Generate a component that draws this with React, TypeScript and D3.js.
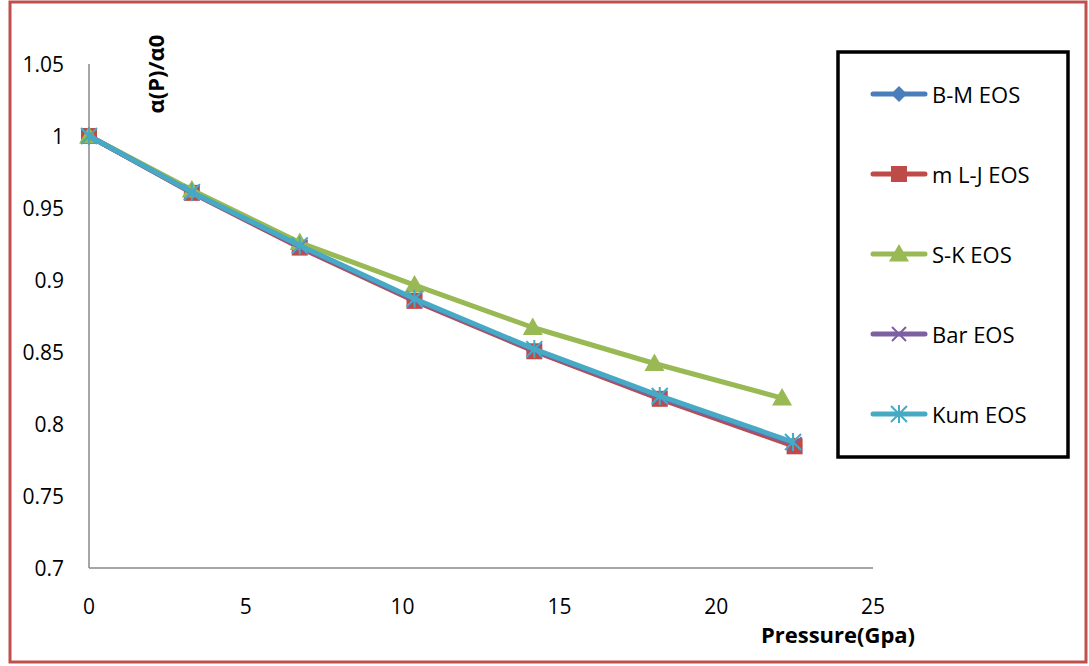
import React from "react";
import * as d3 from "d3";

const pressureBM = [0, 3.28, 6.72, 10.38, 14.2, 18.2, 22.5];
const alphaBM = [1.0, 0.961, 0.923, 0.886, 0.851, 0.818, 0.785];
const pressureLJ = [0, 3.28, 6.72, 10.38, 14.2, 18.2, 22.5];
const alphaLJ = [1.0, 0.9605, 0.9225, 0.8855, 0.8505, 0.8175, 0.7845];
const pressureSK = [0, 3.28, 6.72, 10.38, 14.15, 18.03, 22.1];
const alphaSK = [1.0, 0.9625, 0.926, 0.8965, 0.867, 0.842, 0.818];
const pressureBar = [0, 3.28, 6.72, 10.38, 14.2, 18.2, 22.5];
const alphaBar = [1.0, 0.9608, 0.9232, 0.8862, 0.8512, 0.8185, 0.786];
const pressureKum = [0, 3.28, 6.72, 10.38, 14.2, 18.2, 22.45];
const alphaKum = [1.0, 0.961, 0.924, 0.887, 0.852, 0.8195, 0.7875];

const seriesNames = ["B-M EOS", "m L-J EOS", "S-K EOS", "Bar EOS", "Kum EOS"];
const seriesColors = ["#4a7ebb", "#be4b48", "#98b954", "#7d60a0", "#46aac5"];
const seriesMarkers = ["diamond", "square", "triangle", "x", "star"];
const xTicks = [0, 5, 10, 15, 20, 25];
const yTicks = [0.7, 0.75, 0.8, 0.85, 0.9, 0.95, 1, 1.05];

const seriesX = [pressureBM, pressureLJ, pressureSK, pressureBar, pressureKum];
const seriesY = [alphaBM, alphaLJ, alphaSK, alphaBar, alphaKum];

const FONT = "'Open Sans', 'Noto Sans', sans-serif";

function Marker({ kind, x, y, color }: { kind: string; x: number; y: number; color: string }) {
  if (kind === "diamond") {
    const s = 8;
    return <path d={`M${x},${y - s}L${x + s},${y}L${x},${y + s}L${x - s},${y}Z`} fill={color} />;
  }
  if (kind === "square") {
    const s = 8;
    return <rect x={x - s} y={y - s} width={2 * s} height={2 * s} fill={color} />;
  }
  if (kind === "triangle") {
    const s = 10;
    return <path d={`M${x},${y - s}L${x + s},${y + s * 0.75}L${x - s},${y + s * 0.75}Z`} fill={color} />;
  }
  if (kind === "x") {
    const s = 7;
    return (
      <path d={`M${x - s},${y - s}L${x + s},${y + s}M${x + s},${y - s}L${x - s},${y + s}`} stroke={color} strokeWidth={2} />
    );
  }
  const s = 8;
  return (
    <path
      d={`M${x - s},${y - s}L${x + s},${y + s}M${x + s},${y - s}L${x - s},${y + s}M${x},${y - s - 1}L${x},${y + s + 1}`}
      stroke={color}
      strokeWidth={2}
    />
  );
}

export default function App() {
  const W = 1089;
  const H = 666;
  const x = d3.scaleLinear().domain([0, 25]).range([89, 873]);
  const y = d3.scaleLinear().domain([0.7, 1.05]).range([568, 64]);
  const line = d3
    .line<[number, number]>()
    .x((d) => x(d[0]))
    .y((d) => y(d[1]));

  const legendRows = [94, 174, 254, 334, 414];

  return (
    <svg
      width={W}
      height={H}
      style={{ position: "absolute", left: 0, top: 0, background: "#fff" }}
      fontFamily={FONT}
    >
      <rect x={10} y={2} width={1076} height={660} fill="#fff" stroke="#c0504d" strokeWidth={3} />
      {/* axes */}
      <line x1={x(0)} x2={x(0)} y1={y(1.05)} y2={y(0.7)} stroke="#898989" strokeWidth={1.5} />
      <line x1={x(0)} x2={x(25)} y1={y(0.7)} y2={y(0.7)} stroke="#898989" strokeWidth={1.5} />
      {yTicks.map((t) => (
        <text key={t} x={64} y={y(t)} textAnchor="end" dominantBaseline="central" fontSize={21} fill="#000">
          {String(t)}
        </text>
      ))}
      {xTicks.map((t) => (
        <text key={t} x={x(t)} y={606} textAnchor="middle" dominantBaseline="central" fontSize={21} fill="#000">
          {String(t)}
        </text>
      ))}
      <text
        transform={`translate(155,74) rotate(-90)`}
        textAnchor="middle"
        dominantBaseline="central"
        fontSize={22}
        fontWeight="bold"
        fill="#000"
      >
        α(P)/α0
      </text>
      <text x={838} y={634} textAnchor="middle" dominantBaseline="central" fontSize={22} fontWeight="bold" fill="#000">
        Pressure(Gpa)
      </text>
      {/* series */}
      {seriesNames.map((name, i) => {
        const pts: [number, number][] = seriesX[i].map((px, j) => [px, seriesY[i][j]]);
        return (
          <g key={name}>
            <path d={line(pts) || ""} fill="none" stroke={seriesColors[i]} strokeWidth={5} strokeLinejoin="round" />
            {pts.map((p, j) => (
              <Marker key={j} kind={seriesMarkers[i]} x={x(p[0])} y={y(p[1])} color={seriesColors[i]} />
            ))}
          </g>
        );
      })}
      {/* legend */}
      <rect x={838} y={52} width={230} height={405} fill="#fff" stroke="#000" strokeWidth={3.5} />
      {seriesNames.map((name, i) => (
        <g key={name}>
          <line
            x1={873}
            x2={925}
            y1={legendRows[i]}
            y2={legendRows[i]}
            stroke={seriesColors[i]}
            strokeWidth={5}
            strokeLinecap="round"
          />
          <Marker kind={seriesMarkers[i]} x={899} y={legendRows[i]} color={seriesColors[i]} />
          <text x={932} y={legendRows[i]} dominantBaseline="central" fontSize={22} fill="#000">
            {name}
          </text>
        </g>
      ))}
    </svg>
  );
}
